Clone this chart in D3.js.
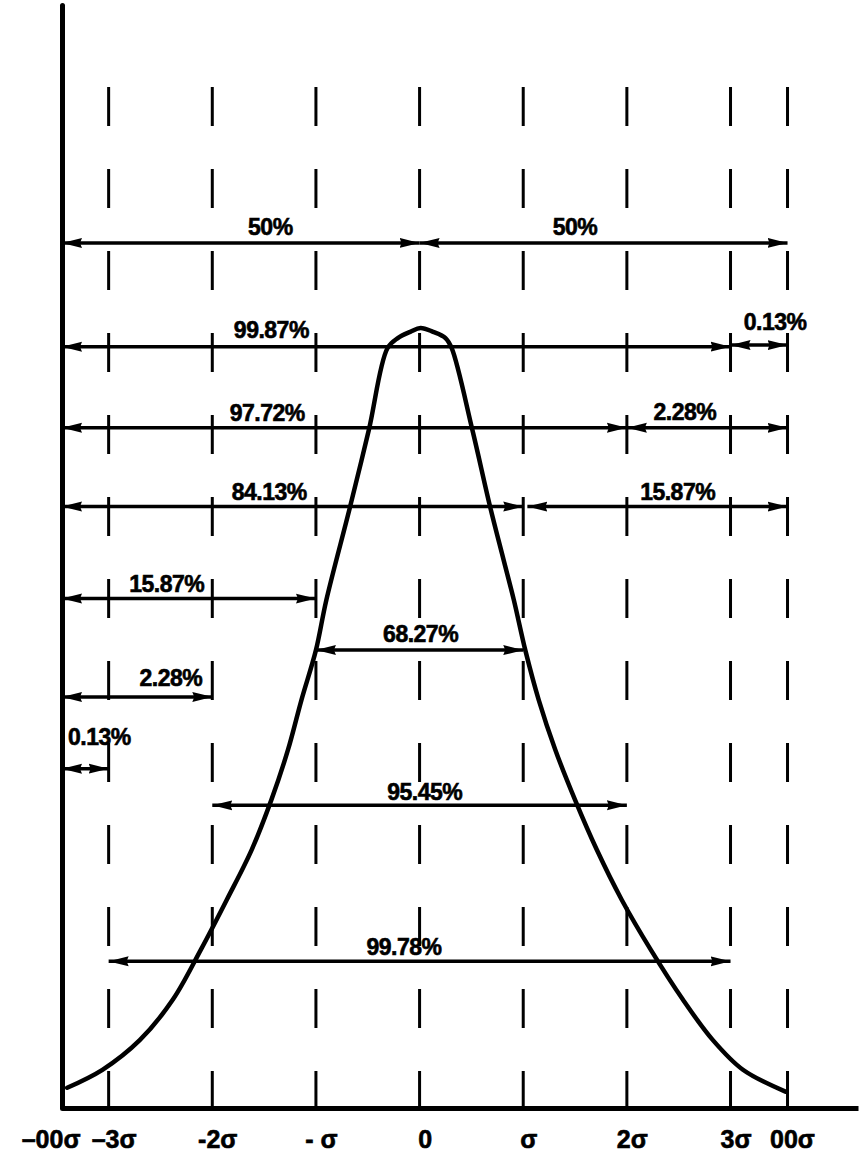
<!DOCTYPE html>
<html>
<head>
<meta charset="utf-8">
<script src="https://cdn.jsdelivr.net/npm/d3@7"></script>
<style>
  body { margin: 0; background: #fff; }
  svg { display: block; }
  text { font-family: 'Liberation Sans', Arial, sans-serif; font-weight: bold; fill: #000; }
</style>
</head>
<body>
<svg class="main-svg"></svg>
<script>
// positions along the x axis, in sigma units (the two "infinity" ends are stand-ins)
var INF_LEFT = -3.45,
    INF_RIGHT = 3.55,
    X_END = 4.23;

var guideSigmas = [-3, -2, -1, 0, 1, 2, 3, INF_RIGHT];
var tickSigmas = [INF_LEFT, -3, -2, -1, 0, 1, 2, 3, INF_RIGHT];
var tickLabels = ['–00σ', '–3σ', '-2σ', '- σ', '0', 'σ', '2σ', '3σ', '00σ'];

// hand drawn bell curve (sigma, height with peak = 1)
var curveSigma = [-3.40, -3.06, -2.70, -2.38, -2.11, -1.86, -1.62, -1.43, -1.27, -1.14, -1.00,
                  -0.90, -0.67, -0.49, -0.31, -0.21, -0.09, 0.01, 0.13, 0.25, 0.31,
                  0.51, 0.68, 0.81, 0.91, 1.02, 1.15, 1.31, 1.50, 1.71, 1.95, 2.23, 2.54, 2.83, 3.12, 3.53];
var curveHeight = [0.026, 0.049, 0.087, 0.139, 0.203, 0.267, 0.331, 0.395, 0.459, 0.523, 0.587,
                   0.651, 0.771, 0.869, 0.974, 0.987, 0.995, 1.000, 0.995, 0.987, 0.974,
                   0.869, 0.771, 0.703, 0.651, 0.587, 0.523, 0.459, 0.395, 0.331, 0.267, 0.203, 0.139, 0.087, 0.049, 0.021];

// the percentage arrows
var arrowLabels = ['50%', '50%', '99.87%', '0.13%', '97.72%', '2.28%', '84.13%', '15.87%',
                   '15.87%', '68.27%', '2.28%', '0.13%', '95.45%', '99.78%'];
var arrowFrom = [INF_LEFT, 0, INF_LEFT, 3, INF_LEFT, 2, INF_LEFT, 1.04,
                 INF_LEFT, -1, INF_LEFT, INF_LEFT, -2, -3];
var arrowTo = [0, INF_RIGHT, 3, INF_RIGHT, 2, INF_RIGHT, 1, INF_RIGHT,
               -1, 1, -2, -3, 2, 3];
var arrowLevel = [1.109, 1.109, 0.976, 0.978, 0.872, 0.872, 0.771, 0.771,
                  0.653, 0.587, 0.527, 0.435, 0.388, 0.188];
var labelSigma = [-1.44, 1.50, -1.43, 3.43, -1.47, 2.56, -1.45, 2.49,
                  -2.44, 0.01, -2.40, -3.09, 0.05, -0.15];
var labelLevel = [1.119, 1.119, 0.987, 0.997, 0.881, 0.882, 0.779, 0.779,
                  0.662, 0.597, 0.541, 0.465, 0.395, 0.196];

var Y_MAX = 1.414,
    GUIDE_TOP = 1.309;

var chartWidth = 860,
    chartHeight = 1155,
    marginLeft = 62,
    plotRight = 858,
    marginTop = 5,
    axisY = 1108;

var d3 = window.d3;

var svg = d3.select('.main-svg')
      .attr('width', chartWidth)
      .attr('height', chartHeight);

var x = d3.scaleLinear().domain([INF_LEFT, X_END]).range([marginLeft, plotRight]);
var y = d3.scaleLinear().domain([0, Y_MAX]).range([axisY, marginTop]);

svg.append('defs').append('marker')
  .attr('id', 'head')
  .attr('viewBox', '0 0 20 12')
  .attr('refX', 20)
  .attr('refY', 6)
  .attr('markerWidth', 20)
  .attr('markerHeight', 12)
  .attr('markerUnits', 'userSpaceOnUse')
  .attr('orient', 'auto-start-reverse')
  .append('path')
  .attr('d', 'M0,1 L20,6 L0,11 L2,6 Z')
  .attr('fill', '#000');

// dashed sigma guides
svg.append('g').selectAll('line')
  .data(guideSigmas)
  .enter()
  .append('line')
  .attr('x1', d => x(d))
  .attr('x2', d => x(d))
  .attr('y1', y(GUIDE_TOP))
  .attr('y2', y(0))
  .attr('stroke', '#000')
  .attr('stroke-width', 3)
  .attr('stroke-dasharray', '39 43');

// arrows
var rows = arrowLabels.map((t, i) => ({
  label: t, from: arrowFrom[i], to: arrowTo[i], level: arrowLevel[i],
  lx: labelSigma[i], ly: labelLevel[i]
}));

svg.append('g').selectAll('line')
  .data(rows)
  .enter()
  .append('line')
  .attr('x1', d => x(d.from))
  .attr('x2', d => x(d.to))
  .attr('y1', d => y(d.level))
  .attr('y2', d => y(d.level))
  .attr('stroke', '#000')
  .attr('stroke-width', 3.5)
  .attr('marker-start', 'url(#head)')
  .attr('marker-end', 'url(#head)');

svg.append('g').selectAll('text')
  .data(rows)
  .enter()
  .append('text')
  .attr('x', d => x(d.lx))
  .attr('y', d => y(d.ly))
  .attr('text-anchor', 'middle')
  .attr('font-size', 23)
  .attr('stroke', '#000')
  .attr('stroke-width', 0.6)
  .attr('letter-spacing', -0.5)
  .text(d => d.label);

// the curve
var line = d3.line()
  .x(d => x(d[0]))
  .y(d => y(d[1]))
  .curve(d3.curveCatmullRom.alpha(0.5));

svg.append('path')
  .datum(d3.zip(curveSigma, curveHeight))
  .attr('d', line)
  .attr('fill', 'none')
  .attr('stroke', '#000')
  .attr('stroke-width', 4.5)
  .attr('stroke-linecap', 'round')
  .attr('stroke-linejoin', 'round');

// axes
var xAxis = svg.append('g')
  .attr('transform', 'translate(0,' + axisY + ')')
  .call(d3.axisBottom(x)
        .tickValues(tickSigmas)
        .tickFormat((d, i) => tickLabels[i])
        .tickSize(0)
        .tickSizeOuter(0)
        .tickPadding(22));

xAxis.select('.domain').attr('stroke', '#000').attr('stroke-width', 5);
xAxis.selectAll('text')
  .attr('font-size', 25)
  .attr('font-family', null)
  .attr('stroke', '#000')
  .attr('stroke-width', 0.6)
  .attr('text-anchor', (d, i) => i === 0 ? 'end' : i === tickSigmas.length - 1 ? 'start' : 'middle')
  .attr('dx', (d, i) => i === 0 ? 18 : i === tickSigmas.length - 1 ? -18 : 5);

var yAxis = svg.append('g')
  .attr('transform', 'translate(' + marginLeft + ',0)')
  .call(d3.axisLeft(y).tickValues([]).tickSizeOuter(0));

yAxis.select('.domain')
  .attr('stroke', '#000')
  .attr('stroke-width', 5)
  .attr('stroke-linecap', 'round');
</script>
</body>
</html>
